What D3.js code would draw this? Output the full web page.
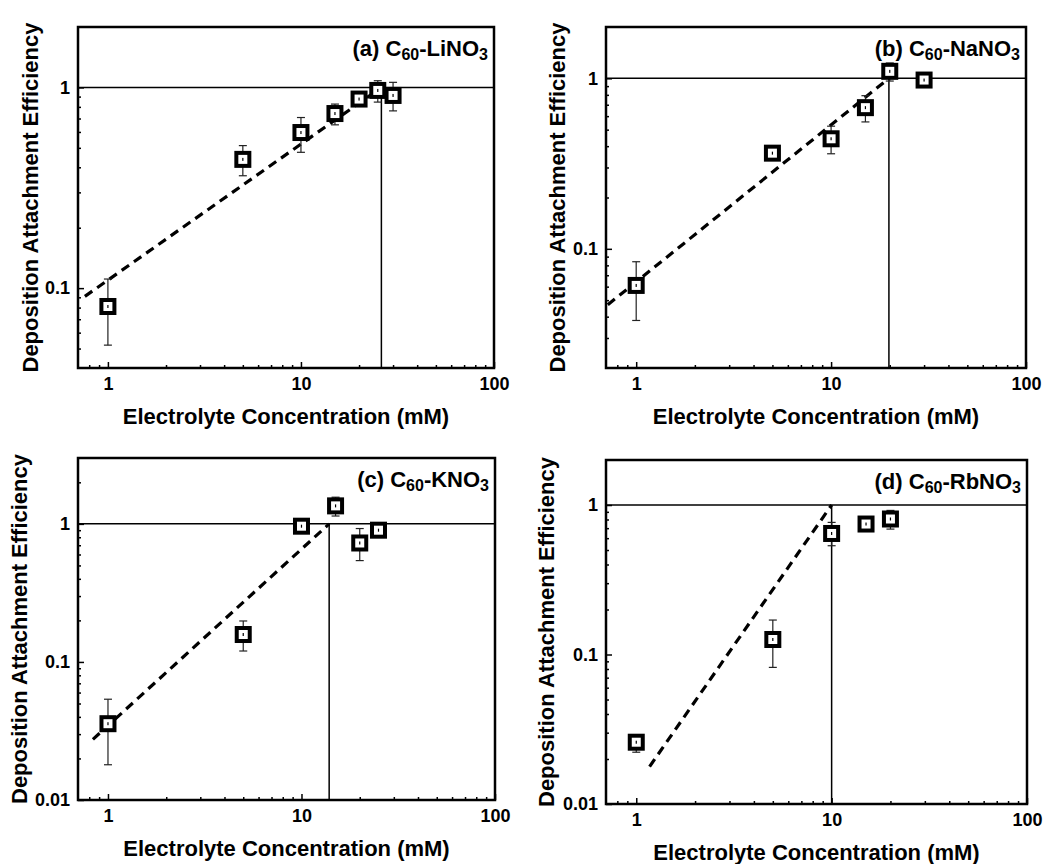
<!DOCTYPE html>
<html>
<head>
<meta charset="utf-8">
<script src="https://cdn.jsdelivr.net/npm/d3@7"></script>
<style>
  body { margin: 0; background: #fff; }
  text { font-family: "Liberation Sans", Arial, sans-serif; font-weight: bold; }
</style>
</head>
<body>
<div id="chart"></div>
<script>
/**
 * DATA
 * */
// (a) C60-LiNO3
const concLi = [1, 5, 10, 15, 20, 25, 30];
const alphaLi = [0.081, 0.438, 0.596, 0.741, 0.875, 0.966, 0.912];
const lowLi = [0.052, 0.363, 0.475, 0.651, 0.84, 0.845, 0.764];
const highLi = [0.111, 0.513, 0.708, 0.826, 0.91, 1.08, 1.06];
const fitLi = [[0.76, 0.091], [26.1, 1]];

// (b) C60-NaNO3
const concNa = [1, 5, 10, 15, 20, 30];
const alphaNa = [0.061, 0.364, 0.442, 0.673, 1.099, 0.977];
const lowNa = [0.038, 0.35, 0.361, 0.555, 0.964, 0.95];
const highNa = [0.084, 0.38, 0.524, 0.791, 1.23, 1.0];
const fitNa = [[0.715, 0.047], [19.8, 1]];

// (c) C60-KNO3
const concK = [1, 5, 10, 15, 20, 25];
const alphaK = [0.0357, 0.158, 0.962, 1.35, 0.727, 0.90];
const lowK = [0.018, 0.12, 0.92, 1.14, 0.542, 0.87];
const highK = [0.0537, 0.198, 1.0, 1.56, 0.925, 0.93];
const fitK = [[0.836, 0.0275], [13.9, 1]];

// (d) C60-RbNO3
const concRb = [1, 5, 10, 15, 20];
const alphaRb = [0.0259, 0.126, 0.645, 0.746, 0.806];
const lowRb = [0.0222, 0.082, 0.534, 0.72, 0.69];
const highRb = [0.029, 0.17, 0.765, 0.77, 0.92];
const fitRb = [[1.17, 0.0178], [10.0, 1]];

const xTicks = [1, 10, 100];
const yTicks = [0.01, 0.1, 1];

const xTitle = "Electrolyte Concentration (mM)";
const yTitle = "Deposition Attachment Efficiency";

/**
 * LAYOUT
 * */
const panels = [
  { id: "a", salt: "Li", conc: concLi, alpha: alphaLi, low: lowLi, high: highLi, fit: fitLi,
    yDomain: [0.04, 2], box: [78, 27, 494, 368], yTitleOff: 40.5 },
  { id: "b", salt: "Na", conc: concNa, alpha: alphaNa, low: lowNa, high: highNa, fit: fitNa,
    yDomain: [0.02, 2], box: [606, 27, 1026, 368], yTitleOff: 41 },
  { id: "c", salt: "K", conc: concK, alpha: alphaK, low: lowK, high: highK, fit: fitK,
    yDomain: [0.01, 3], box: [78, 458, 495, 800], yTitleOff: 51 },
  { id: "d", salt: "Rb", conc: concRb, alpha: alphaRb, low: lowRb, high: highRb, fit: fitRb,
    yDomain: [0.01, 2], box: [606, 460, 1027, 804], yTitleOff: 52 }
];

const svg = d3.select("#chart")
  .append("svg")
  .attr("width", 1043)
  .attr("height", 864);

// minor ticks 2..9 for each decade inside a domain
function minorTicks(domain) {
  let out = [];
  for (let e = -3; e <= 3; e++) {
    for (let m = 2; m <= 9; m++) {
      const v = m * Math.pow(10, e);
      if (v > domain[0] * 1.0001 && v < domain[1] * 0.9999) out.push(v);
    }
  }
  return out;
}

function drawPanel(p) {
  const [x0, y0, x1, y1] = p.box;
  const x = d3.scaleLog().domain([0.7, 100]).range([x0, x1]);
  const y = d3.scaleLog().domain(p.yDomain).range([y1, y0]);
  const g = svg.append("g");

  // minor ticks
  g.append("g")
    .attr("transform", `translate(0,${y1})`)
    .call(d3.axisBottom(x).tickValues(minorTicks(x.domain())).tickSize(-3).tickFormat(""))
    .call(a => a.select(".domain").remove());
  g.append("g")
    .attr("transform", `translate(${x0},0)`)
    .call(d3.axisLeft(y).tickValues(minorTicks(p.yDomain)).tickSize(-3).tickFormat(""))
    .call(a => a.select(".domain").remove());

  // major ticks
  g.append("g")
    .attr("transform", `translate(0,${y1})`)
    .call(d3.axisBottom(x).tickValues(xTicks).tickSize(-6).tickPadding(9).tickFormat(d3.format("")))
    .call(a => a.select(".domain").remove())
    .call(a => a.selectAll("text").style("font-size", "18px").attr("fill", "#000"));
  g.append("g")
    .attr("transform", `translate(${x0},0)`)
    .call(d3.axisLeft(y)
      .tickValues(yTicks.filter(v => v >= p.yDomain[0] && v <= p.yDomain[1]))
      .tickSize(-6).tickPadding(8).tickFormat(d => String(d)))
    .call(a => a.select(".domain").remove())
    .call(a => a.selectAll("text").style("font-size", "18px").attr("fill", "#000"));
  g.selectAll(".tick line").attr("stroke", "#000").attr("stroke-width", 1.5);

  // reference lines at alpha = 1 and at CCC
  const ccc = p.fit[1][0];
  g.append("line")
    .attr("x1", x0).attr("x2", x1)
    .attr("y1", y(1)).attr("y2", y(1))
    .attr("stroke", "#000").attr("stroke-width", 1.5);
  g.append("line")
    .attr("x1", x(ccc)).attr("x2", x(ccc))
    .attr("y1", y(1)).attr("y2", y1)
    .attr("stroke", "#000").attr("stroke-width", 1.5);

  // dashed fit line
  g.append("path")
    .attr("d", d3.line().x(d => x(d[0])).y(d => y(d[1]))(p.fit))
    .attr("fill", "none")
    .attr("stroke", "#000")
    .attr("stroke-width", 3.2)
    .attr("stroke-dasharray", "9,6");

  const pts = p.conc.map((c, i) => ({ c: c, v: p.alpha[i], lo: p.low[i], hi: p.high[i] }));

  // error bars
  const eb = g.append("g").attr("stroke", "#222").attr("stroke-width", 1.2);
  eb.selectAll(".stem").data(pts).join("line")
    .attr("x1", d => x(d.c)).attr("x2", d => x(d.c))
    .attr("y1", d => y(d.lo)).attr("y2", d => y(d.hi));
  eb.selectAll(".capLo").data(pts).join("line")
    .attr("x1", d => x(d.c) - 4).attr("x2", d => x(d.c) + 4)
    .attr("y1", d => y(d.lo)).attr("y2", d => y(d.lo));
  eb.selectAll(".capHi").data(pts).join("line")
    .attr("x1", d => x(d.c) - 4).attr("x2", d => x(d.c) + 4)
    .attr("y1", d => y(d.hi)).attr("y2", d => y(d.hi));

  // hollow square markers
  g.selectAll(".mk").data(pts).join("rect")
    .attr("x", d => x(d.c) - 6.5).attr("y", d => y(d.v) - 6.5)
    .attr("width", 13).attr("height", 13)
    .attr("fill", "#fff").attr("stroke", "#000").attr("stroke-width", 4);
  g.selectAll(".dot").data(pts).join("rect")
    .attr("x", d => x(d.c) - 0.6).attr("y", d => y(d.v) - 1.5)
    .attr("width", 1.2).attr("height", 3)
    .attr("fill", "#000");

  // frame
  g.append("rect")
    .attr("x", x0).attr("y", y0)
    .attr("width", x1 - x0).attr("height", y1 - y0)
    .attr("fill", "none").attr("stroke", "#000").attr("stroke-width", 2.5);

  // panel label
  const lab = g.append("text")
    .attr("x", x1 - 6).attr("y", y0 + 29)
    .attr("text-anchor", "end")
    .attr("font-size", 22);
  lab.append("tspan").text(`(${p.id}) C`);
  lab.append("tspan").attr("font-size", 16).attr("dy", 4).text("60");
  lab.append("tspan").attr("dy", -4).text(`-${p.salt}NO`);
  lab.append("tspan").attr("font-size", 16).attr("dy", 4).text("3");

  // axis titles
  g.append("text")
    .attr("x", (x0 + x1) / 2).attr("y", y1 + 56)
    .attr("text-anchor", "middle")
    .attr("font-size", 22)
    .text(xTitle);
  g.append("text")
    .attr("transform", `translate(${x0 - p.yTitleOff},${(y0 + y1) / 2}) rotate(-90)`)
    .attr("text-anchor", "middle")
    .attr("font-size", 22)
    .text(yTitle);
}

panels.forEach(drawPanel);
</script>
</body>
</html>
